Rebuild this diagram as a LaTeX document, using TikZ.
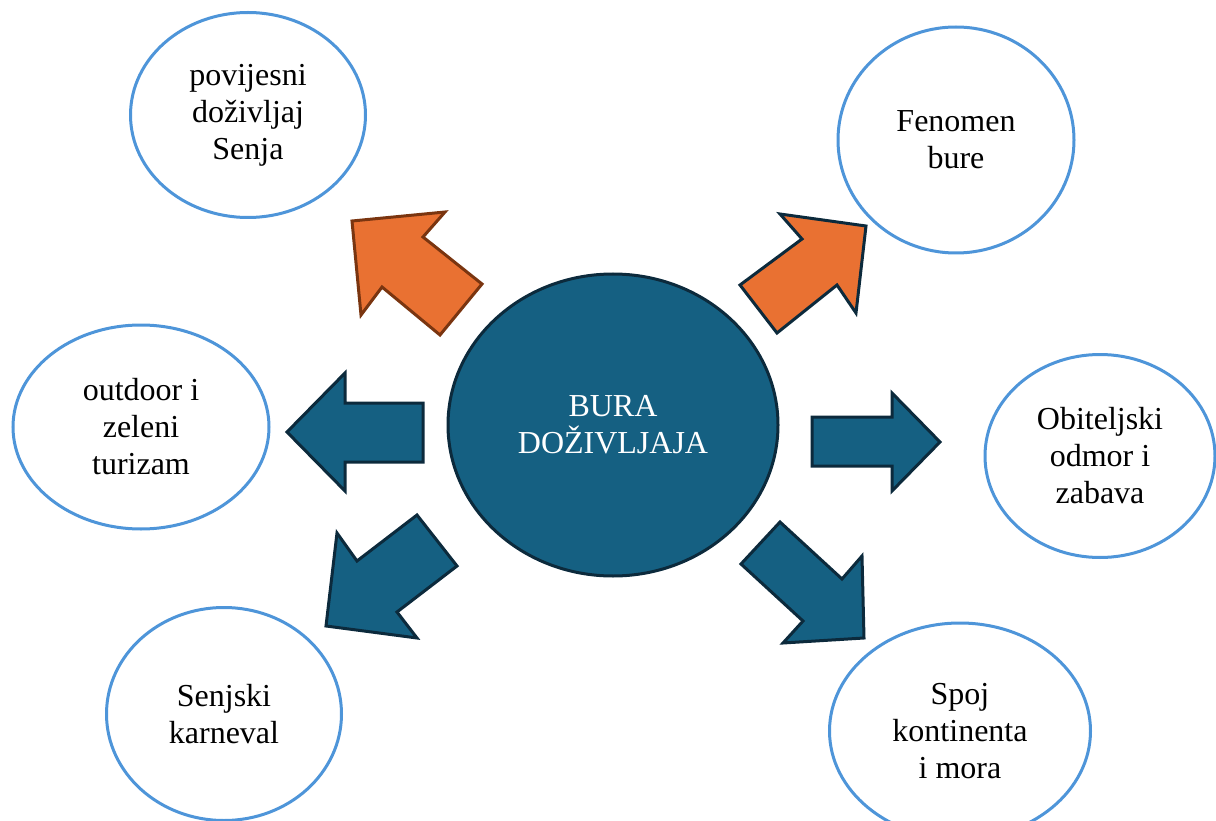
\documentclass[tikz,border=0pt]{standalone}
\usepackage{fontspec}
\setmainfont{Liberation Serif}
\usepackage{tikz}
\usetikzlibrary{shapes.geometric}
\usetikzlibrary{positioning}

\definecolor{ideablue}{HTML}{4E95D9}
\definecolor{burablue}{HTML}{156082}
\definecolor{darkline}{HTML}{0C2A3C}
\definecolor{buraorange}{HTML}{E97132}
\definecolor{brownline}{HTML}{7A3510}

\tikzset{
    idea/.style={ellipse, draw=ideablue, line width=3pt, fill=white, inner sep=0pt, align=center, font=\fontsize{32}{37}\selectfont},
    hub/.style={ellipse, draw=darkline, line width=3pt, fill=burablue, text=white, inner sep=0pt, align=center, font=\fontsize{32}{37}\selectfont},
    bluearrow/.style={fill=burablue, draw=darkline, line width=3pt, line join=miter},
    orangearrow/.style={fill=buraorange, draw=darkline, line width=3pt, line join=miter}
}

\begin{document}
\begin{tikzpicture}[x=1pt, y=-1pt]
            \useasboundingbox (0,0) rectangle (1216,821);
            \node[hub, minimum width=330pt, minimum height=302pt] (bura) at (613,425) {BURA\\DOŽIVLJAJA};
            \node[idea, minimum width=235pt, minimum height=205pt] (povijesni) at (248,115) {povijesni\\doživljaj\\Senja};
            \node[idea, minimum width=236pt, minimum height=226pt] (fenomen) at (956,140) {Fenomen\\bure};
            \node[idea, minimum width=256pt, minimum height=204pt] (outdoor) at (141,427) {outdoor i\\zeleni\\turizam};
            \node[idea, minimum width=230pt, minimum height=203pt] (obitelj) at (1100,456) {Obiteljski\\odmor i\\zabava};
            \node[idea, minimum width=235pt, minimum height=213pt] (karneval) at (224,714) {Senjski\\karneval};
            \node[idea, minimum width=261pt, minimum height=216pt] (spoj) at (960,731) {Spoj\\kontinenta\\i mora};
    	    \draw[orangearrow, draw=brownline] (352,221) -- (445,212) -- (423,237) -- (482,284) -- (440,335) -- (382,287) -- (361,315) -- cycle;
    	    \draw[orangearrow] (740,285) -- (802,239) -- (780,214) -- (866,226) -- (856,313) -- (837,285) -- (777,333) -- cycle;
    	    \draw[bluearrow] (287,432) -- (345,373) -- (345,403) -- (423,403) -- (423,462) -- (345,462) -- (345,491) -- cycle;
    	    \draw[bluearrow] (812,417) -- (892,417) -- (892,393) -- (940,442) -- (892,491) -- (892,466) -- (812,466) -- cycle;
    	    \draw[bluearrow] (417,515) -- (457,566) -- (397,612) -- (417,638) -- (326,626) -- (337,533) -- (357,561) -- cycle;
    	    \draw[bluearrow] (780,522) -- (842,579) -- (862,556) -- (864,638) -- (783,643) -- (803,621) -- (741,564) -- cycle;
    	\end{tikzpicture}
\end{document}
